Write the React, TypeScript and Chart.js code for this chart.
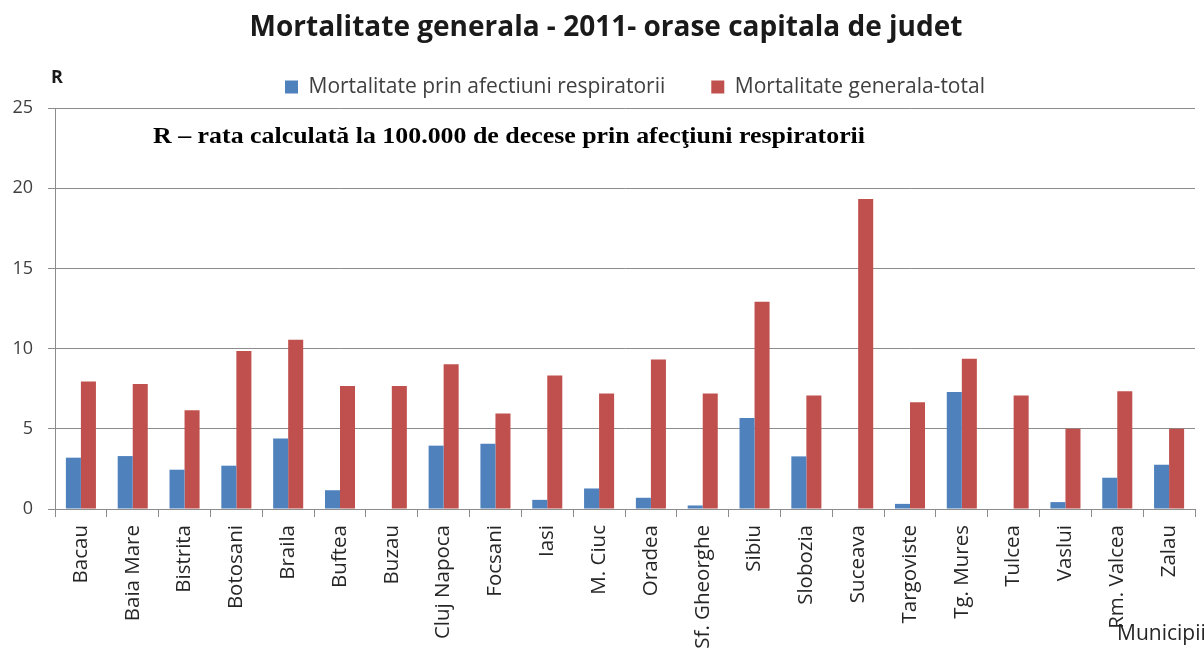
import React, { useEffect, useRef } from 'react';
import { Chart, registerables } from 'chart.js';

Chart.register(...registerables);

const TITLE = 'Mortalitate generala - 2011- orase capitala de judet';
const SERIES_LABELS = ['Mortalitate prin afectiuni respiratorii', 'Mortalitate generala-total'];
const SERIES_COLORS = ['#4F81BD', '#C0504D'];

const categories = [
  'Bacau', 'Baia Mare', 'Bistrita', 'Botosani', 'Braila', 'Buftea', 'Buzau',
  'Cluj Napoca', 'Focsani', 'Iasi', 'M. Ciuc', 'Oradea', 'Sf. Gheorghe', 'Sibiu',
  'Slobozia', 'Suceava', 'Targoviste', 'Tg. Mures', 'Tulcea', 'Vaslui', 'Rm. Valcea', 'Zalau',
];

const respiratory = [
  3.2, 3.3, 2.45, 2.7, 4.4, 1.17, 0, 3.95, 4.07, 0.57, 1.28, 0.7, 0.22, 5.67,
  3.28, 0, 0.32, 7.3, 0, 0.43, 1.95, 2.76,
];

const total = [
  7.95, 7.8, 6.15, 9.85, 10.55, 7.67, 7.67, 9.03, 5.95, 8.32, 7.2, 9.32, 7.2, 12.92,
  7.07, 19.32, 6.65, 9.36, 7.07, 5.0, 7.34, 5.0,
];

const Y_MIN = 0;
const Y_MAX = 25;
const Y_STEP = 5;

const Y_LABEL = 'R';
const NOTE = 'R \u2013 rata calculat\u0103 la 100.000 de decese prin afec\u0163iuni respiratorii';
const X_TITLE = 'Municipii';

const GRID = '#8c8c8c';
const SANS = '"Open Sans", "Noto Sans", sans-serif';
const SERIF = '"Liberation Serif", "DejaVu Serif", serif';

const extrasPlugin = {
  id: 'extras',
  afterLayout(chart: any) {
    const lg = chart.legend;
    if (lg) {
      lg.left = 239;
      lg.right = 1195;
      lg.top = 30.5;
      lg.bottom = 108;
    }
    const tb = chart.titleBlock;
    if (tb) {
      tb.left = 8.5;
      tb.right = 1203.5;
    }
  },
  afterDraw(chart: any) {
    const ctx = chart.ctx as CanvasRenderingContext2D;
    ctx.save();
    ctx.textAlign = 'left';
    ctx.textBaseline = 'alphabetic';
    ctx.fillStyle = '#1a1a1a';
    ctx.font = `bold 18px ${SANS}`;
    ctx.fillText(Y_LABEL, 51, 83);

    // note text, stretched horizontally to the width it has in the reference
    ctx.fillStyle = '#000000';
    ctx.font = `bold 24px ${SERIF}`;
    const w = ctx.measureText(NOTE).width;
    const sx = w > 0 ? 712 / w : 1;
    ctx.save();
    ctx.translate(153, 143);
    ctx.scale(sx, 1);
    ctx.fillText(NOTE, 0, 0);
    ctx.restore();

    ctx.fillStyle = '#262626';
    ctx.font = `21px ${SANS}`;
    ctx.fillText(X_TITLE, 1117, 640);
    ctx.restore();
  },
};

export default function App() {
  const ref = useRef<HTMLCanvasElement | null>(null);

  useEffect(() => {
    let chart: Chart | null = null;
    let cancelled = false;
    const make = () => {
      if (cancelled || !ref.current) return;
      chart = new Chart(ref.current, {
        type: 'bar',
        data: {
          labels: categories,
          datasets: [
            {
              label: SERIES_LABELS[0],
              data: respiratory,
              backgroundColor: SERIES_COLORS[0],
              borderWidth: 0,
              categoryPercentage: 0.58,
              barPercentage: 1.0,
            },
            {
              label: SERIES_LABELS[1],
              data: total,
              backgroundColor: SERIES_COLORS[1],
              borderWidth: 0,
              categoryPercentage: 0.58,
              barPercentage: 1.0,
            },
          ],
        },
        options: {
          responsive: false,
          animation: false,
          devicePixelRatio: 1,
          layout: { padding: { top: 0, left: 0, right: 9, bottom: 0 } },
          plugins: {
            title: {
              display: true,
              text: TITLE,
              color: '#1a1a1a',
              font: { family: SANS, size: 28, weight: 'bold' },
              padding: { top: 11, bottom: 0 },
            },
            legend: {
              display: true,
              position: 'top',
              align: 'start',
              maxHeight: 63.4,
              labels: {
                boxWidth: 13,
                boxHeight: 13,
                padding: 46,
                color: '#404040',
                font: { family: SANS, size: 21 },
              },
            },
            tooltip: { enabled: false },
          },
          scales: {
            x: {
              offset: true,
              grid: {
                offset: true,
                drawOnChartArea: false,
                drawTicks: true,
                tickLength: 8,
                color: GRID,
              },
              border: { display: true, color: GRID },
              ticks: {
                autoSkip: false,
                maxRotation: 90,
                minRotation: 90,
                padding: 8,
                color: '#262626',
                font: { family: SANS, size: 20.5 },
              },
              afterFit: (scale: any) => {
                scale.height = 145;
              },
            },
            y: {
              min: Y_MIN,
              max: Y_MAX,
              ticks: {
                stepSize: Y_STEP,
                padding: 15,
                color: '#404040',
                font: { family: SANS, size: 18 },
              },
              grid: {
                color: GRID,
                tickLength: 7,
                drawTicks: true,
              },
              border: { display: true, color: GRID },
              afterFit: (scale: any) => {
                scale.width = 55;
              },
            },
          },
        },
        plugins: [extrasPlugin],
      } as any);
    };
    const fonts = (document as any).fonts;
    if (fonts && fonts.load) {
      Promise.all([
        fonts.load(`21px "Open Sans"`),
        fonts.load(`bold 28px "Open Sans"`),
        fonts.load(`bold 24px "Liberation Serif"`),
      ]).then(make, make);
    } else {
      make();
    }
    return () => {
      cancelled = true;
      if (chart) chart.destroy();
    };
  }, []);

  return (
    <div style={{ position: 'absolute', left: 0, top: 0, width: 1204, height: 654, background: '#ffffff' }}>
      <canvas ref={ref} width={1204} height={654} style={{ display: 'block', width: 1204, height: 654 }} />
    </div>
  );
}
